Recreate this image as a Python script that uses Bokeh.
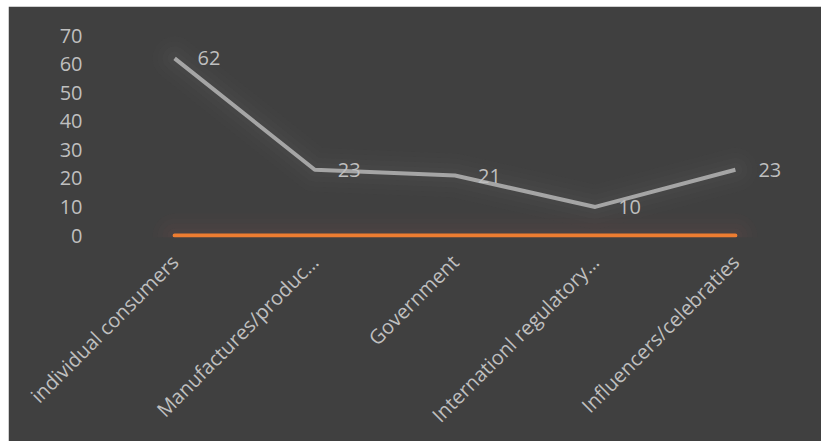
from bokeh.plotting import figure
from bokeh.models import ColumnDataSource, Range1d, FactorRange, LabelSet
from bokeh.core.properties import value
from bokeh.embed import file_html
from bokeh.resources import INLINE

categories = ["individual consumers", "Manufactures/produc…", "Government",
              "Internationl regulatory…", "Influencers/celebraties"]
series_a = [62, 23, 21, 10, 23]
series_b = [0, 0, 0, 0, 0]
y_ticks = [0, 10, 20, 30, 40, 50, 60, 70]

BG = "#404040"
TXT = "#bfbfbf"
FONT = "Open Sans"

src_a = ColumnDataSource(dict(x=categories, y=series_a, lab=[str(v) for v in series_a]))
src_b = ColumnDataSource(dict(x=categories, y=series_b))

p = figure(width=813, height=435, x_range=FactorRange(factors=categories),
           y_range=Range1d(-0.7, 70), output_backend="svg", toolbar_location=None,
           background_fill_color=BG, border_fill_color=BG,
           outline_line_color=BG, outline_line_width=2,
           min_border_left=96, min_border_right=16, min_border_top=29, min_border_bottom=204)
p.margin = (6, 0, 0, 8)

# glow layers
for w, a in [(44, 0.025), (34, 0.03), (24, 0.035), (14, 0.04)]:
    p.line("x", "y", source=src_a, line_width=w, line_color="#8a8a8a", line_alpha=a,
           line_cap="round", line_join="round")
    p.line("x", "y", source=src_b, line_width=w, line_color="#a06060", line_alpha=a,
           line_cap="round", line_join="round")

p.line("x", "y", source=src_a, line_width=4, line_color="#a5a5a5", line_join="round")
p.line("x", "y", source=src_b, line_width=4, line_color="#ed7d31", line_cap="round")

labels = LabelSet(x="x", y="y", text="lab", source=src_a, x_offset=23, y_offset=0,
                  text_align="left", text_baseline="middle", text_color=TXT,
                  text_font=value(FONT), text_font_size=value("20px"))
p.add_layout(labels)

p.xgrid.grid_line_color = None
p.ygrid.grid_line_color = None

p.yaxis.ticker = y_ticks
p.yaxis.axis_line_color = None
p.yaxis.major_tick_line_color = None
p.yaxis.minor_tick_line_color = None
p.yaxis.major_tick_out = 0
p.yaxis.major_label_standoff = 22
p.yaxis.major_label_text_color = TXT
p.yaxis.major_label_text_font = FONT
p.yaxis.major_label_text_font_size = "20px"

p.xaxis.axis_line_color = None
p.xaxis.major_tick_line_color = None
p.xaxis.major_tick_out = 0
p.xaxis.major_label_standoff = 21
p.xaxis.major_label_orientation = 0.785398
p.xaxis.major_label_text_color = TXT
p.xaxis.major_label_text_font = FONT
p.xaxis.major_label_text_font_size = "20px"

open("out.html", "w").write(file_html(p, INLINE))
